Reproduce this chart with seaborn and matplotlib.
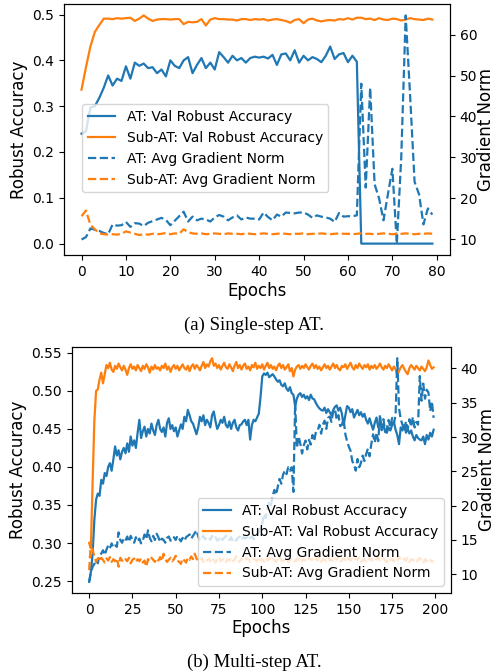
import numpy as np
import matplotlib
matplotlib.use('Agg')
import matplotlib.pyplot as plt
import seaborn as sns

BLUE = '#1f77b4'
ORANGE = '#ff7f0e'

# (a) single-step AT, 80 epochs
acc_at_a = [0.240, 0.245, 0.297, 0.300, 0.318, 0.340, 0.367, 0.345, 0.360, 0.355,
            0.387, 0.360, 0.395, 0.388, 0.393, 0.383, 0.385, 0.372, 0.380, 0.365,
            0.400, 0.388, 0.383, 0.400, 0.407, 0.372, 0.390, 0.405, 0.383, 0.395,
            0.380, 0.418, 0.407, 0.395, 0.410, 0.400, 0.405, 0.395, 0.405, 0.408,
            0.406, 0.408, 0.404, 0.412, 0.390, 0.413, 0.415, 0.400, 0.422, 0.395,
            0.410, 0.400, 0.407, 0.403, 0.396, 0.410, 0.430, 0.403, 0.413, 0.416,
            0.396, 0.410, 0.397, 0.000, 0.000, 0.000, 0.000, 0.000, 0.000, 0.000,
            0.000, 0.000, 0.000, 0.000, 0.000, 0.000, 0.000, 0.000, 0.000, 0.000]
acc_sub_a = [0.336, 0.385, 0.430, 0.462, 0.477, 0.491, 0.491, 0.490, 0.492, 0.491,
             0.492, 0.493, 0.486, 0.491, 0.498, 0.491, 0.486, 0.489, 0.490, 0.490,
             0.489, 0.490, 0.490, 0.479, 0.484, 0.483, 0.484, 0.490, 0.476, 0.489,
             0.492, 0.490, 0.490, 0.489, 0.489, 0.487, 0.490, 0.490, 0.488, 0.490,
             0.489, 0.490, 0.487, 0.489, 0.490, 0.488, 0.486, 0.482, 0.488, 0.490,
             0.481, 0.489, 0.491, 0.487, 0.485, 0.487, 0.488, 0.487, 0.490, 0.489,
             0.492, 0.489, 0.493, 0.493, 0.490, 0.491, 0.488, 0.492, 0.489, 0.488,
             0.491, 0.490, 0.487, 0.489, 0.492, 0.490, 0.489, 0.488, 0.491, 0.489]
grad_at_a = [9.9, 10.5, 12.6, 12.3, 12.0, 11.5, 11.2, 13.6, 13.3, 13.4,
             14.2, 13.0, 13.9, 13.8, 13.2, 14.0, 14.4, 14.8, 15.2, 14.7,
             13.4, 14.5, 15.6, 16.7, 14.3, 15.5, 14.6, 15.0, 14.8, 14.3,
             15.3, 15.9, 15.5, 14.6, 15.3, 15.8, 14.8, 15.3, 15.0, 15.0,
             14.8, 16.5, 15.4, 14.6, 16.0, 15.5, 16.5, 16.4, 16.3, 16.5,
             16.5, 16.0, 15.2, 15.8, 15.5, 15.3, 15.0, 14.2, 16.4, 15.5,
             15.6, 15.6, 15.8, 48.0, 22.6, 47.0, 23.4, 20.0, 14.6, 21.0,
             27.2, 8.9, 30.0, 64.7, 45.0, 24.0, 21.0, 13.6, 17.5, 16.0]
grad_sub_a = [15.6, 17.0, 13.5, 12.4, 11.4, 11.2, 11.1, 11.2, 11.1, 11.3,
              11.9, 11.6, 11.3, 11.0, 11.2, 11.1, 11.3, 11.2, 11.3, 11.5,
              11.2, 11.4, 11.3, 12.4, 11.7, 11.4, 11.3, 11.4, 11.2, 11.3,
              11.4, 11.3, 11.2, 11.4, 11.3, 11.3, 11.2, 11.4, 11.3, 11.2,
              11.3, 11.4, 11.3, 11.2, 11.3, 11.4, 11.3, 11.2, 11.3, 11.3,
              11.4, 11.2, 11.3, 11.3, 11.4, 11.3, 11.2, 11.3, 11.4, 11.3,
              11.3, 11.2, 11.3, 11.4, 11.3, 11.3, 11.2, 11.3, 11.4, 11.3,
              11.2, 11.3, 11.3, 11.4, 11.3, 11.2, 11.3, 11.3, 11.4, 11.3]

# (b) multi-step AT, 200 epochs
acc_at_b = [0.249, 0.262, 0.286, 0.330, 0.357, 0.365, 0.362, 0.383, 0.378, 0.392,
            0.388, 0.400, 0.405, 0.395, 0.410, 0.427, 0.415, 0.422, 0.410, 0.420,
            0.425, 0.418, 0.431, 0.420, 0.440, 0.428, 0.435, 0.425, 0.445, 0.462,
            0.438, 0.447, 0.453, 0.440, 0.450, 0.444, 0.457, 0.448, 0.442, 0.455,
            0.462, 0.450, 0.446, 0.452, 0.440, 0.458, 0.464, 0.450, 0.455, 0.447,
            0.452, 0.440, 0.448, 0.456, 0.450, 0.466, 0.460, 0.475, 0.468, 0.460,
            0.457, 0.450, 0.443, 0.452, 0.466, 0.460, 0.468, 0.455, 0.462, 0.458,
            0.452, 0.468, 0.473, 0.460, 0.450, 0.455, 0.462, 0.458, 0.466, 0.455,
            0.452, 0.460, 0.450, 0.458, 0.462, 0.452, 0.448, 0.455, 0.456, 0.460,
            0.462, 0.455, 0.462, 0.436, 0.455, 0.462, 0.460, 0.465, 0.470, 0.492,
            0.519, 0.523, 0.521, 0.524, 0.518, 0.520, 0.522, 0.519, 0.515, 0.512,
            0.514, 0.508, 0.506, 0.510, 0.503, 0.500, 0.505, 0.497, 0.495, 0.480,
            0.490, 0.495, 0.497, 0.492, 0.495, 0.490, 0.493, 0.488, 0.495, 0.490,
            0.489, 0.484, 0.480, 0.477, 0.475, 0.474, 0.478, 0.471, 0.476, 0.472,
            0.468, 0.475, 0.479, 0.481, 0.474, 0.478, 0.470, 0.455, 0.468, 0.480,
            0.478, 0.472, 0.476, 0.465, 0.470, 0.475, 0.468, 0.472, 0.466, 0.470,
            0.462, 0.457, 0.464, 0.456, 0.449, 0.458, 0.465, 0.452, 0.458, 0.450,
            0.455, 0.446, 0.445, 0.452, 0.448, 0.455, 0.460, 0.449, 0.442, 0.430,
            0.452, 0.448, 0.455, 0.445, 0.450, 0.444, 0.448, 0.440, 0.435, 0.442,
            0.438, 0.436, 0.435, 0.440, 0.430, 0.442, 0.436, 0.445, 0.440, 0.449]
acc_sub_b = [0.300, 0.293, 0.380, 0.460, 0.500, 0.502, 0.515, 0.524, 0.510, 0.522,
             0.534, 0.530, 0.537, 0.528, 0.525, 0.533, 0.529, 0.536, 0.531, 0.527,
             0.533, 0.528, 0.521, 0.530, 0.535, 0.529, 0.532, 0.527, 0.534, 0.530,
             0.526, 0.533, 0.529, 0.535, 0.531, 0.524, 0.532, 0.528, 0.534, 0.529,
             0.531, 0.527, 0.533, 0.530, 0.536, 0.528, 0.532, 0.525, 0.531, 0.534,
             0.529, 0.533, 0.527, 0.531, 0.535, 0.530, 0.528, 0.533, 0.526, 0.532,
             0.535, 0.529, 0.534, 0.531, 0.527, 0.533, 0.538, 0.530, 0.535, 0.532,
             0.539, 0.543, 0.533, 0.536, 0.530, 0.534, 0.528, 0.533, 0.537, 0.531,
             0.529, 0.535, 0.531, 0.526, 0.533, 0.538, 0.530, 0.534, 0.528, 0.533,
             0.536, 0.529, 0.532, 0.527, 0.534, 0.531, 0.537, 0.529, 0.533, 0.530,
             0.535, 0.528, 0.533, 0.537, 0.530, 0.534, 0.529, 0.532, 0.527, 0.533,
             0.536, 0.530, 0.534, 0.528, 0.531, 0.535, 0.526, 0.530, 0.519, 0.528,
             0.532, 0.534, 0.529, 0.533, 0.530, 0.535, 0.531, 0.528, 0.533, 0.536,
             0.530, 0.534, 0.529, 0.532, 0.527, 0.531, 0.535, 0.530, 0.533, 0.528,
             0.532, 0.536, 0.530, 0.534, 0.529, 0.527, 0.533, 0.531, 0.535, 0.529,
             0.533, 0.537, 0.531, 0.528, 0.534, 0.530, 0.536, 0.532, 0.529, 0.534,
             0.531, 0.535, 0.528, 0.533, 0.530, 0.534, 0.529, 0.532, 0.536, 0.531,
             0.528, 0.533, 0.530, 0.535, 0.531, 0.527, 0.532, 0.529, 0.520, 0.526,
             0.531, 0.534, 0.529, 0.525, 0.522, 0.530, 0.534, 0.531, 0.528, 0.533,
             0.530, 0.527, 0.532, 0.529, 0.526, 0.531, 0.540, 0.534, 0.529, 0.531]
grad_at_b = [8.9, 10.2, 11.1, 11.5, 12.0, 11.6, 12.8, 13.0, 13.5, 12.8,
             13.6, 14.2, 13.8, 14.5, 13.9, 14.2, 14.0, 16.1, 15.0, 14.6,
             15.2, 14.9, 15.5, 14.7, 15.6, 15.0, 14.6, 15.4, 14.8, 15.2,
             14.5, 14.9, 15.8, 15.1, 16.4, 15.3, 14.8, 15.6, 15.0, 15.9,
             15.4, 14.7, 15.2, 15.0, 14.6, 15.3, 15.5, 14.9, 14.9, 15.4,
             15.0, 15.6, 15.2, 14.8, 15.3, 14.9, 15.4, 15.6, 15.8, 15.2,
             15.6, 16.0, 16.4, 15.5, 14.9, 15.3, 15.6, 15.1, 15.4, 15.4,
             15.0, 15.6, 15.2, 15.4, 14.9, 15.1, 15.5, 15.0, 15.3, 15.6,
             15.2, 15.0, 15.4, 14.8, 15.1, 14.9, 15.3, 15.5, 15.0, 15.4,
             15.2, 15.4, 15.0, 15.3, 15.5, 15.1, 15.4, 15.8, 16.1, 16.9,
             17.4, 18.8, 18.2, 19.4, 20.6, 20.1, 21.4, 22.3, 21.6, 22.8,
             23.9, 23.2, 24.5, 25.1, 24.6, 25.6, 25.1, 25.6, 22.0, 35.0,
             28.4, 30.1, 29.0, 27.6, 28.8, 29.5, 28.2, 29.6, 28.9, 30.3,
             29.4, 30.8, 30.9, 31.8, 30.5, 31.8, 32.4, 31.2, 32.8, 33.0,
             32.2, 33.8, 34.1, 32.5, 33.2, 31.6, 31.8, 32.6, 30.4, 29.4,
             28.6, 28.0, 26.5, 26.0, 25.1, 26.8, 25.6, 26.2, 27.3, 26.5,
             27.5, 28.3, 27.2, 29.0, 30.4, 29.2, 30.6, 29.4, 33.3, 31.0,
             32.6, 30.8, 31.3, 32.5, 31.4, 32.8, 32.0, 33.1, 41.5, 34.2,
             32.6, 31.8, 30.9, 32.3, 31.2, 32.6, 31.5, 32.9, 31.4, 32.2,
             31.8, 38.9, 35.3, 37.8, 35.6, 36.9, 36.5, 33.8, 35.2, 32.8]
grad_sub_b = [10.6, 14.8, 13.6, 12.6, 11.8, 12.3, 11.9, 12.4, 12.1, 11.7,
              12.3, 12.0, 12.5, 11.8, 12.2, 11.9, 12.3, 11.1, 12.4, 12.0,
              11.8, 12.2, 11.9, 12.4, 11.6, 12.1, 12.3, 11.8, 12.2, 11.9,
              12.3, 11.7, 12.0, 11.1, 12.2, 11.9, 12.4, 12.1, 11.8, 12.3,
              12.0, 12.5, 11.9, 13.0, 12.2, 11.8, 12.1, 12.4, 11.9, 12.2,
              12.7, 12.0, 11.8, 11.5, 12.3, 12.0, 11.7, 12.4, 12.1, 12.6,
              12.2, 13.0, 12.3, 11.9, 12.1, 12.4, 11.8, 12.2, 12.0, 12.3,
              11.9, 12.4, 12.1, 11.7, 12.2, 12.5, 11.9, 12.1, 12.3, 11.8,
              12.2, 12.0, 12.4, 11.9, 12.1, 12.6, 12.0, 11.8, 12.3, 12.1,
              11.9, 12.4, 12.2, 11.8, 12.0, 12.3, 12.1, 11.9, 12.5, 12.0,
              12.2, 11.8, 12.3, 12.0, 12.4, 11.9, 12.2, 12.1, 11.8, 12.3,
              12.6, 12.0, 11.9, 12.2, 12.4, 11.8, 12.1, 12.3, 12.0, 11.9,
              12.3, 12.1, 12.5, 11.9, 12.2, 12.0, 11.8, 12.4, 12.1, 12.2,
              11.9, 12.3, 12.0, 12.5, 11.8, 12.2, 12.1, 11.9, 12.4, 12.0,
              12.2, 11.8, 12.3, 12.1, 12.6, 11.9, 12.0, 12.3, 12.1, 11.8,
              12.4, 12.0, 12.2, 11.9, 12.3, 12.1, 12.5, 11.8, 12.0, 12.2,
              11.9, 12.4, 12.1, 12.3, 11.8, 12.0, 12.2, 12.5, 11.9, 12.1,
              12.3, 12.0, 11.8, 12.4, 12.1, 12.2, 11.9, 12.3, 12.0, 12.6,
              12.1, 11.9, 12.3, 12.0, 12.4, 11.8, 12.2, 12.0, 12.3, 11.9,
              12.1, 12.4, 12.0, 11.6, 12.2, 11.9, 12.3, 12.1, 11.8, 12.0]

plt.rcParams['font.size'] = 10
plt.rcParams['axes.labelsize'] = 12
plt.rcParams['legend.fontsize'] = 10


def draw_panel(fig, rect, acc_at, acc_sub, grad_at, grad_sub, legend_kw):
    ax = fig.add_axes(rect)
    ax2 = ax.twinx()
    epochs = np.arange(len(acc_at))
    sns.lineplot(x=epochs, y=acc_at, ax=ax, color=BLUE, linewidth=1.6,
                 label='AT: Val Robust Accuracy', legend=False)
    sns.lineplot(x=epochs, y=acc_sub, ax=ax, color=ORANGE, linewidth=1.6,
                 label='Sub-AT: Val Robust Accuracy', legend=False)
    sns.lineplot(x=epochs, y=grad_at, ax=ax2, color=BLUE, linewidth=1.6, linestyle='--',
                 label='AT: Avg Gradient Norm', legend=False)
    sns.lineplot(x=epochs, y=grad_sub, ax=ax2, color=ORANGE, linewidth=1.6, linestyle='--',
                 label='Sub-AT: Avg Gradient Norm', legend=False)
    ax.set_xlabel('Epochs', labelpad=2)
    ax.set_ylabel('Robust Accuracy', labelpad=3)
    ax2.set_ylabel('Gradient Norm', labelpad=0)
    h1, l1 = ax.get_legend_handles_labels()
    h2, l2 = ax2.get_legend_handles_labels()
    ax2.legend(h1 + h2, l1 + l2, **legend_kw)
    return ax, ax2


fig = plt.figure(figsize=(4.96, 6.72), dpi=100)
draw_panel(fig, [0.129, 0.6205, 0.778, 0.3735], acc_at_a, acc_sub_a, grad_at_a, grad_sub_a,
           dict(loc='lower left', bbox_to_anchor=(0.047, 0.25), borderaxespad=0))
draw_panel(fig, [0.145, 0.1176, 0.764, 0.366], acc_at_b, acc_sub_b, grad_at_b, grad_sub_b,
           dict(loc='lower right'))

fig.text(0.512, 1 - 325 / 672, '(a) Single-step AT.', ha='center', va='center',
         family='Liberation Serif', fontsize=13.5)
fig.text(0.512, 1 - 662 / 672, '(b) Multi-step AT.', ha='center', va='center',
         family='Liberation Serif', fontsize=13.5)

fig.savefig('out.png', dpi=100)
plt.close(fig)
